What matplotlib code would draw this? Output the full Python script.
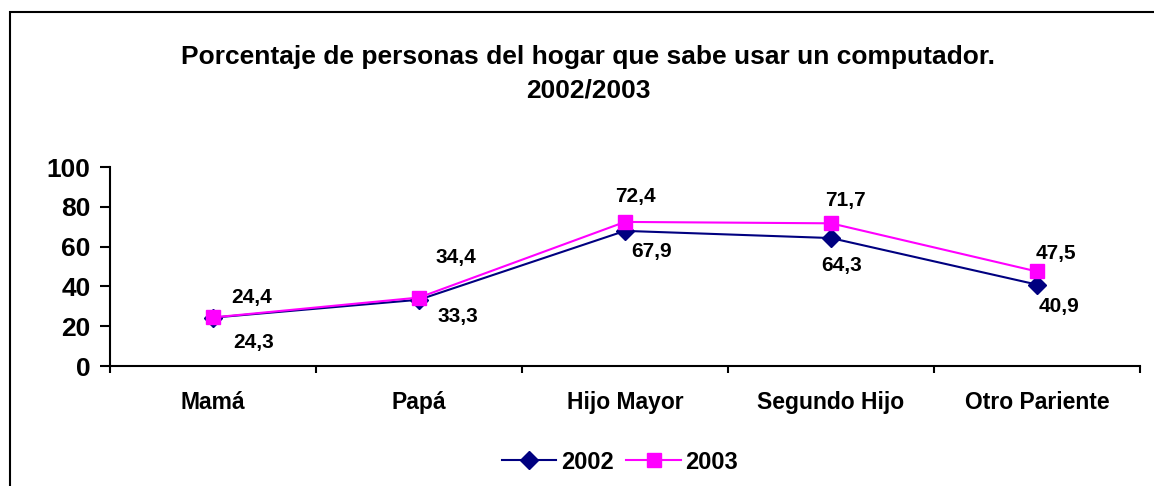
import matplotlib.pyplot as plt
import matplotlib.patches as mpatches
import numpy as np

plt.rcParams["font.family"] = ["Liberation Sans", "DejaVu Sans"]
plt.rcParams["font.weight"] = "bold"

categories = ["Mamá", "Papá", "Hijo Mayor", "Segundo Hijo", "Otro Pariente"]
vals_2002 = [24.3, 33.3, 67.9, 64.3, 40.9]
vals_2003 = [24.4, 34.4, 72.4, 71.7, 47.5]
labels_2002 = ["24,3", "33,3", "67,9", "64,3", "40,9"]
labels_2003 = ["24,4", "34,4", "72,4", "71,7", "47,5"]

# label offsets in pixels (dx, dy)
offs_2002 = [(41, -25), (39, -17), (27, -21), (11, -27), (22, -22)]
offs_2003 = [(39, 20), (37, 40), (10, 25), (14, 23), (19, 18)]

fig = plt.figure(figsize=(11.54, 4.86), dpi=100)
ax = fig.add_axes([110 / 1154, 1 - 366 / 486, 1030 / 1154, 199 / 486])

# outer chart frame (right and bottom run past the image)
fig.patches.append(mpatches.Rectangle((10 / 1154, -0.05), 1.1, 1 - 12 / 486 + 0.05,
                                      transform=fig.transFigure, fill=False,
                                      edgecolor="black", linewidth=1.5))

x = np.arange(len(categories))
ax.plot(x, vals_2002, color="#000080", marker="D", markersize=9, linewidth=1.5, label="2002")
ax.plot(x, vals_2003, color="#FF00FF", marker="s", markersize=10, linewidth=1.5, label="2003")

for xi, v, t, (dx, dy) in zip(x, vals_2002, labels_2002, offs_2002):
    ax.annotate(t, (xi, v), xytext=(dx, dy), textcoords="offset pixels",
                ha="center", va="center", fontsize=15, fontweight="bold")
for xi, v, t, (dx, dy) in zip(x, vals_2003, labels_2003, offs_2003):
    ax.annotate(t, (xi, v), xytext=(dx, dy), textcoords="offset pixels",
                ha="center", va="center", fontsize=15, fontweight="bold")

ax.set_xlim(-0.5, len(categories) - 0.5)
ax.set_ylim(0, 100)
ax.set_yticks([0, 20, 40, 60, 80, 100])
ax.tick_params(axis="y", labelsize=19, length=7, width=1.5, pad=7)
ax.set_xticks(np.arange(-0.5, len(categories), 1))
ax.set_xticklabels([])
ax.tick_params(axis="x", length=5, width=1.5)
ax.set_xticks(x, minor=True)
ax.set_xticklabels(categories, minor=True, fontsize=16.5, fontweight="bold")
ax.tick_params(axis="x", which="minor", length=0, pad=18)
for lab in ax.get_yticklabels():
    lab.set_fontweight("bold")

for s in ["top", "right"]:
    ax.spines[s].set_visible(False)
for s in ["left", "bottom"]:
    ax.spines[s].set_linewidth(1.5)

fig.text(588 / 1154, 1 - 57 / 486, "Porcentaje de personas del hogar que sabe usar un computador.",
         ha="center", va="center", fontsize=19, fontweight="bold")
fig.text(588 / 1154, 1 - 90 / 486, "2002/2003",
         ha="center", va="center", fontsize=19, fontweight="bold")

fig.legend(loc="center", bbox_to_anchor=(620 / 1154, 1 - 462 / 486), ncol=2, frameon=False,
           prop={"size": 17, "weight": "bold"}, handlelength=2.3, handletextpad=0.2,
           columnspacing=0.55)

fig.savefig("out.png", dpi=100)
